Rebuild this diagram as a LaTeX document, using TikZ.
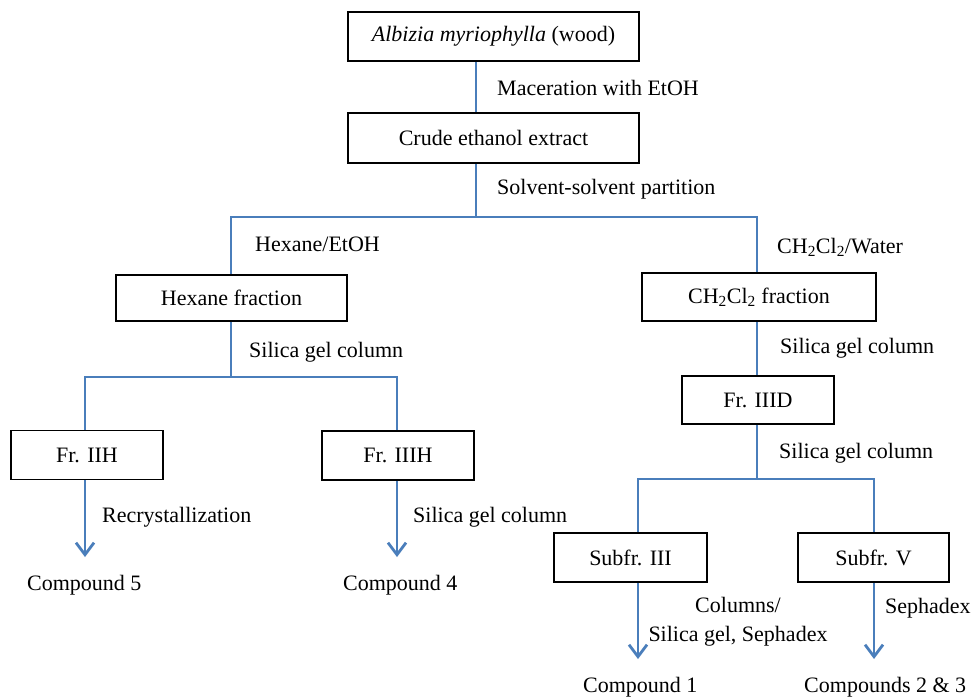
\documentclass[tikz,border=0pt]{standalone}
\usepackage{fontspec}
\setmainfont{Liberation Serif}
\usetikzlibrary{arrows.meta,calc}
\definecolor{lineblue}{RGB}{74,126,187}
\begin{document}
\begin{tikzpicture}[x=1pt,y=-1pt,
  font=\fontsize{22}{29}\selectfont,
  box/.style={draw=black, line width=1.6pt, inner sep=0pt},
  conn/.style={draw=lineblue, line width=1.5pt},
  arr/.style={draw=lineblue, line width=2.8pt, -{Straight Barb[length=12pt,width=18pt,line width=2.8pt]}},
  lbl/.style={anchor=west, inner sep=0pt}]
\useasboundingbox (0,0) rectangle (971,697);
\fill[white] (0,0) rectangle (971,697);
% boxes
\node[box, minimum width=291pt, minimum height=49pt] (b1) at (493.5,36.5) {\textit{Albizia myriophylla} (wood)};
\node[box, minimum width=291pt, minimum height=50pt] (b2) at (493.5,138) {Crude ethanol extract};
\node[box, minimum width=231pt, minimum height=46pt] (hex) at (231.5,298) {Hexane fraction};
\node[box, minimum width=234pt, minimum height=48pt] (dcm) at (759,297) {CH\textsubscript{2}Cl\textsubscript{2} fraction};
\node[box, minimum width=152pt, minimum height=48pt] (fd) at (758,400) {Fr. IIID};
\node[box, minimum width=152pt, minimum height=49pt] (f2) at (87,455) {Fr. IIH};
\node[box, minimum width=152pt, minimum height=49pt] (f3) at (398,455.5) {Fr. IIIH};
\node[box, minimum width=153pt, minimum height=49pt] (s3) at (630.5,557.5) {Subfr. III};
\node[box, minimum width=151pt, minimum height=49pt] (s5) at (873.5,557.5) {Subfr. V};
% labels
\node[lbl] (l1) at (497,88) {Maceration with EtOH};
\node[lbl] (l2) at (497,189) {Solvent-solvent partition};
\node[lbl] (l3) at (255,244) {Hexane/EtOH};
\node[lbl] (l4) at (777,247) {CH\textsubscript{2}Cl\textsubscript{2}/Water};
\node[lbl] (l5) at (249,352) {Silica gel column};
\node[lbl] (l6) at (780,348) {Silica gel column};
\node[lbl] (l7) at (779,453) {Silica gel column};
\node[lbl] (l8) at (102,517) {Recrystallization};
\node[lbl] (l9) at (413,517) {Silica gel column};
\node[align=center, inner sep=0pt] (l10) at (738,622) {Columns/\\Silica gel, Sephadex};
\node[lbl] (l11) at (885,608) {Sephadex};
% compounds
\node[lbl] (c5) at (27,585) {Compound 5};
\node[lbl] (c4) at (343,585) {Compound 4};
\node[lbl] (c1) at (583,687) {Compound 1};
\node[lbl] (c23) at (804,687) {Compounds 2 \& 3};
% junction coordinates
\coordinate (xm) at (476,0);
\coordinate (jm) at (476,217);
\coordinate (jl) at (231,217);
\coordinate (jr) at (757,217);
\coordinate (jl2) at (231,377);
\coordinate (jla) at (85,377);
\coordinate (jlb) at (397,377);
\coordinate (jr2) at (757,479);
\coordinate (jra) at (638,479);
\coordinate (jrb) at (874,479);
\coordinate (e5) at (85,557);
\coordinate (e4) at (397,557);
\coordinate (e1) at (638,659);
\coordinate (e23) at (874,659);
% connectors
\draw[conn] (b1.south -| xm) -- (b2.north -| xm);
\draw[conn] (b2.south -| xm) -- (jm);
\draw[conn] (hex.north -| jl) -- (jl) -- (jr) -- (dcm.north -| jr);
\draw[conn] (hex.south -| jl2) -- (jl2);
\draw[conn] (f2.north -| jla) -- (jla) -- (jlb) -- (f3.north -| jlb);
\draw[conn] (dcm.south -| jr) -- (fd.north -| jr);
\draw[conn] (fd.south -| jr2) -- (jr2);
\draw[conn] (s3.north -| jra) -- (jra) -- (jrb) -- (s5.north -| jrb);
% arrows
\draw[arr] (f2.south -| e5) -- (e5);
\draw[arr] (f3.south -| e4) -- (e4);
\draw[arr] (s3.south -| e1) -- (e1);
\draw[arr] (s5.south -| e23) -- (e23);
\end{tikzpicture}
\end{document}
